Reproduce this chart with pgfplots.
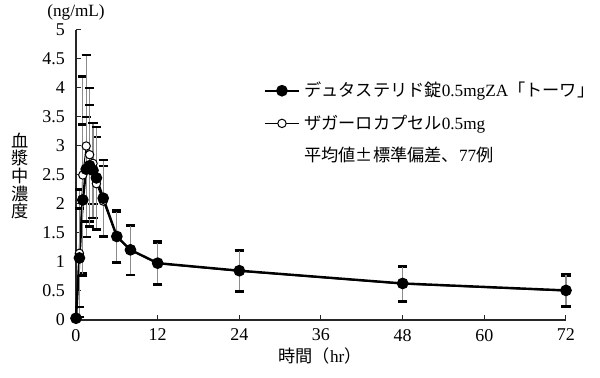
\documentclass[border=0pt]{standalone}
\usepackage{pgfplots}
\pgfplotsset{compat=1.18}
\usepackage{fontspec}
\setmainfont{Liberation Serif}
\newfontfamily\cjk{Noto Sans CJK JP}
\begin{document}
\begin{tikzpicture}
\begin{axis}[
  scale only axis, width=245pt, height=145pt,
  xmin=0, xmax=72, ymin=0, ymax=5,
  axis x line*=bottom, axis y line*=left,
  axis line style={line width=0.6pt, black!85},
  xtick={0,12,24,36,48,60,72},
  ytick={0,0.5,...,5},
  tick align=inside, major tick length=2.5pt,
  tick style={black!85, line width=0.5pt},
  /pgf/number format/assume math mode=true,
  ticklabel style={font=\fontsize{9}{10}\selectfont},
  yticklabel style={xshift=-2pt},
  xticklabel style={yshift=-1pt},
  clip=false,
]
\addplot[black, line width=0.5pt, mark=*, mark size=2.1pt,
  mark options={fill=white, draw=black, line width=0.5pt},
  error bars/.cd, y dir=both, y explicit,
  error bar style={black!45, line width=0.6pt},
  error mark options={black, line width=1.2pt, mark size=2.3pt, rotate=90}]
  table[x=t, y=m, y error=sd] {
t m sd
0 0.02 0
0.5 1.15 1.1
1 2.5 1.7
1.5 3.0 1.57
2 2.85 1.15
2.5 2.7 0.7
3 2.35 0.8
4 2.05 0.6
6 1.43 0.44
8 1.2 0.42
12 0.97 0.36
24 0.84 0.35
48 0.62 0.3
72 0.5 0.27
};
\addplot[black, line width=1.2pt, mark=*, mark size=2.3pt,
  mark options={fill=black, draw=black},
  error bars/.cd, y dir=both, y explicit,
  error bar style={black!45, line width=0.6pt},
  error mark options={black, line width=1.2pt, mark size=2.3pt, rotate=90}]
  table[x=t, y=m, y error=sd] {
t m sd
0 0.03 0
0.5 1.07 0.85
1 2.07 1.3
1.5 2.6 0.9
2 2.66 1.05
2.5 2.58 0.82
3 2.45 0.88
4 2.1 0.66
6 1.44 0.45
8 1.21 0.43
12 0.98 0.37
24 0.85 0.36
48 0.63 0.3
72 0.51 0.28
};
\end{axis}
\begin{axis}[
  scale only axis, width=245pt, height=145pt,
  xmin=0, xmax=72, ymin=0, ymax=5, hide axis,
  legend cell align=left,
  legend style={draw=none, fill=none, at={(0.37,0.85)}, anchor=north west,
    font=\fontsize{8.6}{10}\selectfont, row sep=3.6pt},
]
\addlegendimage{black, line width=1.2pt, mark=*, mark size=2.3pt, mark options={fill=black}}
\addlegendentry{{\cjk デュタステリド錠}0.5mgZA{\cjk 「トーワ」}}
\addlegendimage{black, line width=0.5pt, mark=*, mark size=2.1pt, mark options={fill=white}}
\addlegendentry{{\cjk ザガーロカプセル}0.5mg}
\addlegendimage{empty legend}
\addlegendentry{{\cjk 平均値±標準偏差、}77{\cjk 例}}
\end{axis}
\node[font=\fontsize{8.6}{10}\selectfont] at (0pt,154pt) {(ng/mL)};
\node[font=\cjk\fontsize{8.6}{8.8}\selectfont, align=center] at (-28pt,72pt) {血\\漿\\中\\濃\\度};
\node[font=\fontsize{8.6}{10}\selectfont] at (122pt,-18pt) {{\cjk 時間（}hr{\cjk ）}};
\pgfresetboundingbox
\path (-38pt,-29pt) rectangle (262pt,160pt);
\end{tikzpicture}
\end{document}
